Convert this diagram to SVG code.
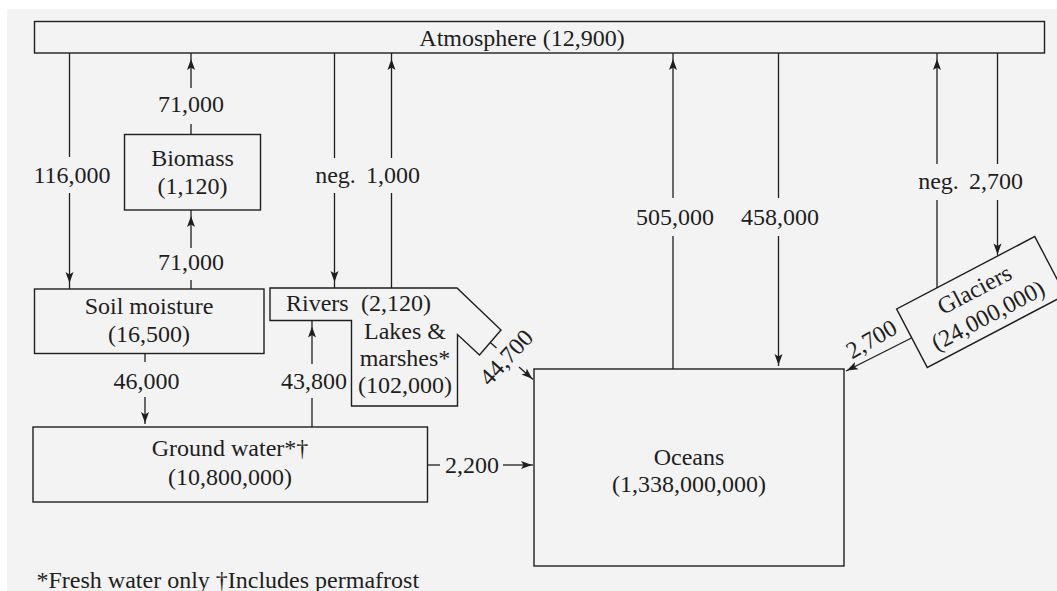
<svg xmlns="http://www.w3.org/2000/svg" width="1057" height="591" viewBox="0 0 1057 591">
<style>
.t{font-family:"Liberation Serif","Times New Roman",serif;font-size:24px;fill:#1e1e1e;text-anchor:middle}
.box{fill:none;stroke:#1e1e1e;stroke-width:1.4}
.c{fill:none;stroke:#1e1e1e;stroke-width:1.3}
.ca{fill:none;stroke:#1e1e1e;stroke-width:1.3;marker-end:url(#a)}
.cb{fill:none;stroke:#1e1e1e;stroke-width:1.3;marker-end:url(#b)}
</style>
<defs>
<marker id="a" markerUnits="userSpaceOnUse" markerWidth="18" markerHeight="8" viewBox="0 0 18 8" refX="17" refY="4" orient="auto" overflow="visible">
<path d="M0,0 L11,4 L0,8 L2.5,4 z" fill="#1e1e1e"/>
</marker>
<marker id="b" markerUnits="userSpaceOnUse" markerWidth="12" markerHeight="8" viewBox="0 0 12 8" refX="12" refY="4" orient="auto" overflow="visible">
<path d="M0,0 L11,4 L0,8 L2.5,4 z" fill="#1e1e1e"/>
</marker>
</defs>
<rect x="0" y="0" width="1057" height="591" fill="#ffffff"/>
<rect x="7" y="9" width="1050" height="582" fill="#f3f3f3"/>

<g id="atmosphere">
<rect class="box" x="34.5" y="21.5" width="1010" height="31.5"/>
<text class="t" x="522" y="46">Atmosphere (12,900)</text>
</g>

<g id="biomass">
<rect class="box" x="124.5" y="134.5" width="136" height="75.5"/>
<text class="t" x="192.5" y="166">Biomass</text>
<text class="t" x="192.5" y="194">(1,120)</text>
</g>

<g id="soil-moisture">
<rect class="box" x="34.5" y="289" width="229.5" height="64.5"/>
<text class="t" x="149" y="314">Soil moisture</text>
<text class="t" x="149" y="342">(16,500)</text>
</g>

<g id="rivers-lakes">
<path class="box" d="M270,288 L457,288 L501,330 L479.5,355 L457.5,334.5 L457.5,406 L351.5,406 L351.5,320.5 L270,320.5 Z"/>
<text class="t" x="286" y="311" style="text-anchor:start">Rivers</text>
<text class="t" x="361" y="311" style="text-anchor:start">(2,120)</text>
<text class="t" x="405" y="339">Lakes &amp;</text>
<text class="t" x="405" y="366">marshes*</text>
<text class="t" x="405" y="393">(102,000)</text>
</g>

<g id="ground-water">
<rect class="box" x="33" y="427" width="394.5" height="75"/>
<text class="t" x="230" y="456">Ground water*†</text>
<text class="t" x="230" y="485">(10,800,000)</text>
</g>

<g id="oceans">
<rect class="box" x="534" y="369" width="310" height="197"/>
<text class="t" x="689" y="465">Oceans</text>
<text class="t" x="689" y="492">(1,338,000,000)</text>
</g>

<g id="glaciers" transform="translate(981,302) rotate(-27.7)">
<rect class="box" x="-78" y="-33" width="156" height="66"/>
<text class="t" x="0" y="-6">Glaciers</text>
<text class="t" x="0" y="23">(24,000,000)</text>
</g>

<g id="connectors">
<line class="c" x1="69.5" y1="53" x2="69.5" y2="157"/>
<line class="ca" x1="69.5" y1="193" x2="69.5" y2="289"/>
<text class="t" x="72" y="183">116,000</text>

<line class="c" x1="191" y1="134.5" x2="191" y2="124"/>
<line class="ca" x1="191" y1="88" x2="191" y2="53"/>
<text class="t" x="191" y="112">71,000</text>

<line class="c" x1="191" y1="289" x2="191" y2="280"/>
<line class="ca" x1="191" y1="248" x2="191" y2="210"/>
<text class="t" x="191" y="270">71,000</text>

<line class="c" x1="334.5" y1="53" x2="334.5" y2="158"/>
<line class="ca" x1="334.5" y1="193" x2="334.5" y2="288"/>
<text class="t" x="335.5" y="183">neg.</text>

<line class="c" x1="391.5" y1="288" x2="391.5" y2="193"/>
<line class="ca" x1="391.5" y1="158" x2="391.5" y2="53"/>
<text class="t" x="393" y="183">1,000</text>

<line class="c" x1="145" y1="353.5" x2="145" y2="362"/>
<line class="cb" x1="145" y1="397" x2="145" y2="424"/>
<text class="t" x="146.5" y="389">46,000</text>

<line class="c" x1="312" y1="427" x2="312" y2="398"/>
<line class="ca" x1="312" y1="364" x2="312" y2="320.5"/>
<text class="t" x="314" y="389">43,800</text>

<line class="c" x1="490.3" y1="342.5" x2="496.5" y2="348"/>
<line class="cb" x1="519" y1="367" x2="533" y2="379.5"/>
<text class="t" transform="translate(507,358) rotate(-47)" x="0" y="7">44,700</text>

<line class="c" x1="427.5" y1="465" x2="440" y2="465"/>
<line class="cb" x1="503" y1="465" x2="533" y2="465"/>
<text class="t" x="472" y="473">2,200</text>

<line class="c" x1="673" y1="369" x2="673" y2="236"/>
<line class="ca" x1="673" y1="198" x2="673" y2="53"/>
<text class="t" x="675" y="225">505,000</text>

<line class="c" x1="778.5" y1="53" x2="778.5" y2="198"/>
<line class="cb" x1="778.5" y1="236" x2="778.5" y2="366"/>
<text class="t" x="780" y="225">458,000</text>

<line class="c" x1="937" y1="288" x2="937" y2="200"/>
<line class="ca" x1="937" y1="164" x2="937" y2="53"/>
<text class="t" x="938.5" y="188.5">neg.</text>

<line class="c" x1="997.5" y1="53" x2="997.5" y2="164"/>
<line class="cb" x1="997.5" y1="200" x2="997.5" y2="255.5"/>
<text class="t" x="996" y="188.5">2,700</text>

<line class="cb" x1="911.5" y1="338" x2="846" y2="371"/>
<text class="t" transform="translate(872,340) rotate(-30)" x="0" y="7">2,700</text>
</g>

<text class="t" x="36.5" y="588" style="text-anchor:start">*Fresh water only †Includes permafrost</text>
</svg>
